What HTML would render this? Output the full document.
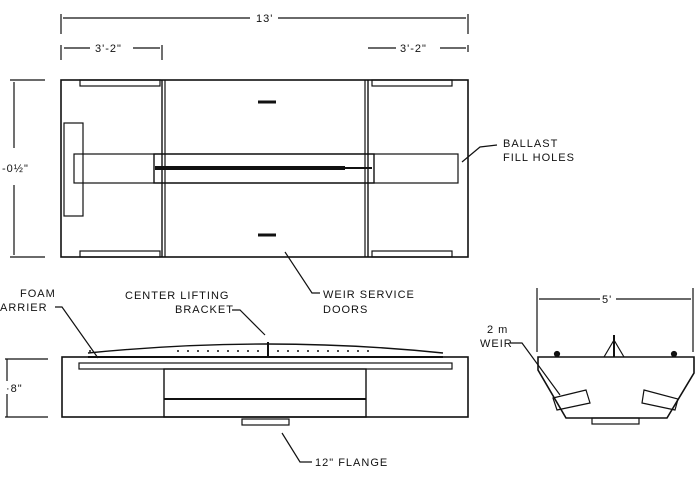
<!DOCTYPE html>
<html><head><style>
html,body{margin:0;padding:0;background:#fff;}
svg{display:block}
text{font-family:"Liberation Sans",sans-serif;font-size:11px;fill:#111;letter-spacing:1px}
</style></head><body>
<svg width="700" height="480" viewBox="0 0 700 480" xmlns="http://www.w3.org/2000/svg">
<g stroke="#111" fill="none" stroke-width="1.2">
<!-- top dims -->
<line x1="61" y1="14" x2="61" y2="34"/><line x1="468" y1="14" x2="468" y2="34"/>
<line x1="63" y1="18" x2="250" y2="18"/><line x1="278" y1="18" x2="466" y2="18"/>
<line x1="61" y1="45" x2="61" y2="60"/><line x1="162" y1="45" x2="162" y2="60"/>
<line x1="64" y1="48" x2="90" y2="48"/><line x1="133" y1="48" x2="160" y2="48"/>
<line x1="468" y1="45" x2="468" y2="52"/>
<line x1="368" y1="48" x2="396" y2="48"/><line x1="440" y1="48" x2="466" y2="48"/>
<!-- vertical dim -->
<line x1="10" y1="80" x2="45" y2="80"/><line x1="10" y1="257" x2="45" y2="257"/>
<line x1="14" y1="82" x2="14" y2="148"/><line x1="14" y1="185" x2="14" y2="255"/>
<!-- top view -->
<rect x="61" y="80" width="407" height="177" stroke-width="1.6"/>
<line x1="162" y1="80" x2="162" y2="257" stroke-width="1.4"/><line x1="165" y1="80" x2="165" y2="257"/>
<line x1="365" y1="80" x2="365" y2="257"/><line x1="368" y1="80" x2="368" y2="257" stroke-width="1.4"/>
<rect x="80" y="80" width="80" height="6"/><rect x="372" y="80" width="80" height="6"/>
<rect x="80" y="251" width="80" height="6"/><rect x="372" y="251" width="80" height="6"/>
<rect x="74" y="154" width="384" height="29"/>
<rect x="154" y="154" width="220" height="29" stroke-width="1.4"/>
<line x1="155" y1="168" x2="345" y2="168" stroke-width="4"/><line x1="345" y1="168" x2="372" y2="168" stroke-width="2"/>
<rect x="64" y="123" width="19" height="93"/>
<line x1="258" y1="102" x2="276" y2="102" stroke-width="3"/><line x1="258" y1="235" x2="276" y2="235" stroke-width="3"/>
<!-- leaders -->
<polyline points="462,162 480,147 497,145"/>
<polyline points="285,252 312,293 320,293"/>
<!-- side view -->
<rect x="62" y="357" width="406" height="60" stroke-width="1.6"/>
<rect x="79" y="363" width="373" height="6"/>
<rect x="164" y="369" width="202" height="48" stroke-width="1.4"/>
<line x1="164" y1="399" x2="366" y2="399" stroke-width="2"/>
<path d="M88 353 Q268 335 443 353" stroke-width="1.4"/>
<line x1="88" y1="357" x2="443" y2="357" stroke-width="2"/>
<line x1="268" y1="342" x2="268" y2="356" stroke-width="2"/>
<rect x="242" y="419" width="47" height="6"/>
<line x1="5" y1="359" x2="48" y2="359"/><line x1="5" y1="417" x2="48" y2="417"/>
<line x1="7" y1="359" x2="7" y2="381"/><line x1="7" y1="394" x2="7" y2="417"/>
<polyline points="55,307 62,307 98,358"/>
<polyline points="232,310 240,310 265,335"/>
<polyline points="282,433 300,462 312,462"/>
<!-- right view -->
<line x1="537" y1="288" x2="537" y2="352"/><line x1="693" y1="288" x2="693" y2="352"/>
<line x1="539" y1="299" x2="600" y2="299"/><line x1="616" y1="299" x2="691" y2="299"/>
<polygon points="538,357 694,357 694,373 667,418 566,418 538,370" stroke-width="1.6"/>
<polyline points="604,357 614,340 624,357"/><line x1="614" y1="335" x2="614" y2="357" stroke-width="2"/>
<circle cx="557" cy="354" r="2.5" fill="#111"/><circle cx="674" cy="354" r="2.5" fill="#111"/>
<polygon points="553,398 586,390 590,403 557,410"/>
<polygon points="644,390 678,399 675,410 642,403"/>
<rect x="592" y="418" width="47" height="6"/>
<polyline points="510,343 522,343 560,395"/>
</g>
<g fill="#111">
<circle cx="90" cy="351" r="1"/>
<g id="dots"></g>
</g>
<g fill="#111">
<circle cx="178" cy="351" r="1"/><circle cx="188" cy="351" r="1"/><circle cx="198" cy="351" r="1"/><circle cx="208" cy="351" r="1"/><circle cx="218" cy="351" r="1"/><circle cx="228" cy="351" r="1"/><circle cx="238" cy="351" r="1"/><circle cx="248" cy="351" r="1"/><circle cx="258" cy="351" r="1"/><circle cx="278" cy="351" r="1"/><circle cx="288" cy="351" r="1"/><circle cx="298" cy="351" r="1"/><circle cx="308" cy="351" r="1"/><circle cx="318" cy="351" r="1"/><circle cx="328" cy="351" r="1"/><circle cx="338" cy="351" r="1"/><circle cx="348" cy="351" r="1"/><circle cx="358" cy="351" r="1"/><circle cx="368" cy="351" r="1"/>
</g>
<text x="256" y="22">13'</text>
<text x="95" y="52">3'-2"</text>
<text x="400" y="52">3'-2"</text>
<text x="2" y="172">-0½"</text>
<text x="503" y="147">BALLAST</text>
<text x="503" y="161">FILL HOLES</text>
<text x="323" y="298">WEIR SERVICE</text>
<text x="323" y="313">DOORS</text>
<text x="20" y="297">FOAM</text>
<text x="0" y="311">ARRIER</text>
<text x="125" y="299">CENTER LIFTING</text>
<text x="175" y="313">BRACKET</text>
<text x="6" y="392">·8"</text>
<text x="315" y="466">12" FLANGE</text>
<text x="602" y="303">5'</text>
<text x="487" y="333">2 m</text>
<text x="480" y="347">WEIR</text>
</svg>
</body></html>
